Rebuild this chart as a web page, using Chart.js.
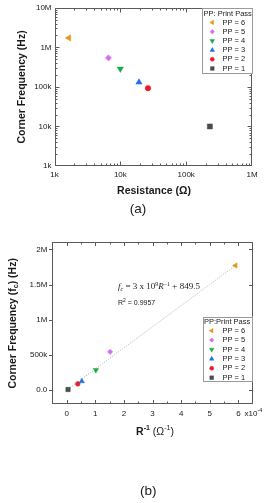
<!DOCTYPE html>
<html><head><meta charset="utf-8">
<script src="https://cdn.jsdelivr.net/npm/chart.js@4/dist/chart.umd.min.js"></script>
<style>
html,body{margin:0;padding:0;background:#fff;width:275px;height:503px;overflow:hidden}
#wa{position:absolute;left:0;top:0;width:275px;height:225px}
#wb{position:absolute;left:0;top:228px;width:275px;height:275px}
</style></head><body>
<div id="wa"><canvas id="ca"></canvas></div>
<div id="wb"><canvas id="cb"></canvas></div>
<script>
// ---------- data ----------
const seriesLabels = ['PP = 6','PP = 5','PP = 4','PP = 3','PP = 2','PP = 1'];
const seriesColors = ['#e8981a','#d46ef0','#1aa84a','#1f6ff0','#f01822','#4a4a4a'];
const seriesShapes = ['triangle','rectRot','triangle','triangle','circle','rect'];
const seriesRotation = [270,0,180,0,0,0];
// panel (a): resistance (ohm) vs corner frequency (Hz)
const resistance = [1650, 6600, 10000, 19200, 26300, 229000];
const freqA = [1.73e6, 5.4e5, 2.86e5, 1.31e5, 9.3e4, 1.0e4];
// panel (b): R^-1 (x1e-4 ohm^-1) vs corner frequency (Hz)
const invR = [5.9, 1.52, 1.02, 0.53, 0.39, 0.05];
const freqB = [1.77e6, 5.45e5, 2.86e5, 1.27e5, 9.0e4, 1.0e4];
// linear fit line endpoints
const fitX = [0.05, 5.9];
const fitY = [1.5e4, 1.771e6];
// tick labels
const logTickLabels = {1000:'1k',10000:'10k',100000:'100k',1000000:'1M',10000000:'10M'};
const linYTickLabels = {0:'0.0',500000:'500k',1000000:'1M',1500000:'1.5M',2000000:'2M'};
const xTickLabelsB = {0:'0',1:'1',2:'2',3:'3',4:'4',5:'5',6:'6'};

const SANS = "'Liberation Sans', Arial, sans-serif";
const SERIF = "'Liberation Serif', 'Times New Roman', serif";
const TXT = '#1a1a1a';
const FRAME = '#5a5a5a';
const SHAPE_SCALE = {triangle:1, rectRot:0.85, circle:0.76, rect:1};

function logTickValues(minE, maxE){
  const out=[];
  for(let e=minE;e<maxE;e++){for(let k=1;k<10;k++){out.push({value:k*Math.pow(10,e), major:k===1});}}
  out.push({value:Math.pow(10,maxE), major:true});
  return out;
}

function segWidth(ctx, segs){let w=0;for(const s of segs){ctx.font=s.f;w+=ctx.measureText(s.t).width;}return w;}
function drawSegs(ctx, x, y, segs){
  let cx=x;
  for(const s of segs){ctx.font=s.f;ctx.fillText(s.t,cx,y+(s.dy||0));cx+=ctx.measureText(s.t).width;}
}

function makePlugin(cfg){
  return {
    id:'deco_'+cfg.id,
    afterDatasetsDraw(chart){
      const {ctx, chartArea:a, scales} = chart;
      ctx.save();
      ctx.strokeStyle = FRAME; ctx.lineWidth = 1;
      const L = Math.round(a.left)+0.5, R = Math.round(a.right)-0.5, T = Math.round(a.top)+0.5, B = Math.round(a.bottom)-0.5;
      ctx.beginPath();
      for(const t of scales.x.ticks){
        const p = Math.round(scales.x.getPixelForValue(t.value))+0.5;
        if(p < L-0.6 || p > R+0.6) continue;
        const len = t.major ? cfg.maj : cfg.min;
        ctx.moveTo(p,B); ctx.lineTo(p,B-len);
        ctx.moveTo(p,T); ctx.lineTo(p,T+len);
      }
      for(const t of scales.y.ticks){
        const p = Math.round(scales.y.getPixelForValue(t.value))+0.5;
        if(p < T-0.6 || p > B+0.6) continue;
        const len = t.major ? cfg.maj : cfg.min;
        ctx.moveTo(L,p); ctx.lineTo(L+cfg.leftDir*len,p);
        ctx.moveTo(R,p); ctx.lineTo(R-len,p);
      }
      ctx.stroke();
      ctx.strokeRect(L,T,R-L,B-T);
      ctx.restore();
    },
    afterDraw(chart){
      const {ctx, chartArea:a} = chart;
      ctx.save();
      ctx.fillStyle = TXT;
      ctx.textBaseline = 'middle';
      const xs = cfg.xTitle;
      ctx.textAlign='left';
      const xw = segWidth(ctx, xs);
      drawSegs(ctx, cfg.xTitleX - xw/2, cfg.xTitleY, xs);
      ctx.save();
      ctx.translate(cfg.yTitleX, (a.top+a.bottom)/2);
      ctx.rotate(-Math.PI/2);
      const yw = segWidth(ctx, cfg.yTitle);
      drawSegs(ctx, -yw/2, 0, cfg.yTitle);
      ctx.restore();
      ctx.font = "13.5px " + SANS;
      ctx.textAlign='center';
      ctx.fillText(cfg.panel, cfg.panelX, cfg.panelY);
      if(cfg.extra) cfg.extra(ctx, chart);
      const lg = cfg.legend;
      ctx.fillStyle='#fff';
      ctx.fillRect(lg.x, lg.y, lg.w, lg.h);
      ctx.strokeStyle='#9a9a9a'; ctx.lineWidth=1;
      ctx.strokeRect(Math.round(lg.x)+0.5, Math.round(lg.y)+0.5, Math.round(lg.w)-1, Math.round(lg.h)-1);
      ctx.fillStyle=TXT; ctx.textAlign='left';
      ctx.font = "7.5px " + SANS;
      ctx.fillText(lg.title, lg.x+1.5, lg.titleY);
      for(let i=0;i<seriesLabels.length;i++){
        const yy = lg.row0 + i*lg.dy;
        ctx.fillStyle = seriesColors[i]; ctx.strokeStyle = seriesColors[i]; ctx.lineWidth=0.5;
        Chart.helpers.drawPoint(ctx, {pointStyle:seriesShapes[i], radius:2.6*SHAPE_SCALE[seriesShapes[i]], rotation:seriesRotation[i], borderWidth:0.5}, lg.mx, yy);
        ctx.fillStyle = TXT;
        ctx.font = "7.5px " + SANS;
        ctx.fillText(seriesLabels[i], lg.tx, yy);
      }
      ctx.restore();
    }
  };
}

function pointDatasets(xv, yv, r){
  return seriesLabels.map((lab,i)=>({
    type:'scatter', label:lab,
    data:[{x:xv[i], y:yv[i]}],
    pointStyle:seriesShapes[i], rotation:seriesRotation[i],
    pointRadius:r*SHAPE_SCALE[seriesShapes[i]], pointBackgroundColor:seriesColors[i], pointBorderColor:seriesColors[i], pointBorderWidth:0.5
  }));
}

const tickFont = {family:SANS, size:8};
const boldT = "bold 10.5px " + SANS;

// ---------- chart (a) ----------
new Chart(document.getElementById('ca'), {
  type:'scatter',
  data:{datasets: pointDatasets(resistance, freqA, 3.6)},
  options:{
    responsive:true, maintainAspectRatio:false, animation:false, devicePixelRatio:1,
    layout:{padding:{left:0, top:7.5, right:23, bottom:0}},
    plugins:{legend:{display:false}, tooltip:{enabled:false}},
    scales:{
      x:{type:'logarithmic', min:1e3, max:1e6,
         afterBuildTicks:(s)=>{s.ticks = logTickValues(3,6);},
         afterFit:(s)=>{s.height = 59;},
         grid:{display:false, drawTicks:false}, border:{display:false},
         ticks:{autoSkip:false, maxRotation:0, minRotation:0, padding:4, color:TXT, font:tickFont,
                callback:(v)=>logTickLabels[v]||''}},
      y:{type:'logarithmic', min:1e3, max:1e7,
         afterBuildTicks:(s)=>{s.ticks = logTickValues(3,7);},
         afterFit:(s)=>{s.width = 54.5;},
         grid:{display:false, drawTicks:false}, border:{display:false},
         ticks:{autoSkip:false, padding:3, color:TXT, font:tickFont,
                callback:(v)=>logTickLabels[v]||''}}
    }
  },
  plugins:[makePlugin({
    id:'a', maj:4, min:2, leftDir:1,
    xTitle:[{t:'Resistance (Ω)', f:boldT}], xTitleX:154, xTitleY:191.5,
    yTitle:[{t:'Corner Frequency (Hz)', f:boldT}], yTitleX:22.5,
    panel:'(a)', panelX:138, panelY:209.5,
    legend:{x:202, y:7.5, w:50.5, h:66, title:'PP: Print Pass', titleY:13.5, row0:22.5, dy:9.2, mx:212.3, tx:222.5}
  })]
});

// ---------- chart (b) ----------
const fitData = fitX.map((x,i)=>({x:x, y:fitY[i]}));
new Chart(document.getElementById('cb'), {
  type:'scatter',
  data:{datasets:[
    {type:'line', label:'fit', data:fitData, borderColor:'#9a9a9a', borderWidth:0.8, borderDash:[1,1.5], pointRadius:0, fill:false},
    ...pointDatasets(invR, freqB, 3.1)
  ]},
  options:{
    responsive:true, maintainAspectRatio:false, animation:false, devicePixelRatio:1,
    layout:{padding:{left:0, top:14.3, right:22.3, bottom:0}},
    plugins:{legend:{display:false}, tooltip:{enabled:false}},
    scales:{
      x:{type:'linear', min:-0.5, max:6.5,
         afterBuildTicks:(s)=>{const t=[];for(let v=-0.5;v<=6.5001;v+=0.5){const q=Math.round(v*2)/2;t.push({value:q, major:Number.isInteger(q)});}s.ticks=t;},
         afterFit:(s)=>{s.height = 98.7;},
         grid:{display:false, drawTicks:false}, border:{display:false},
         ticks:{autoSkip:false, maxRotation:0, minRotation:0, padding:5, color:TXT, font:tickFont,
                callback:(v)=>xTickLabelsB[v]!==undefined?xTickLabelsB[v]:''}},
      y:{type:'linear', min:-2e5, max:2.1e6,
         afterBuildTicks:(s)=>{s.ticks = Object.keys(linYTickLabels).map(k=>({value:+k, major:true}));},
         afterFit:(s)=>{s.width = 52.3;},
         grid:{display:false, drawTicks:false}, border:{display:false},
         ticks:{autoSkip:false, padding:5, color:TXT, font:tickFont,
                callback:(v)=>linYTickLabels[v]||''}}
    }
  },
  plugins:[makePlugin({
    id:'b', maj:3.5, min:2, leftDir:-1,
    xTitle:[{t:'R', f:boldT},{t:'-1', f:"bold 7px "+SANS, dy:-3.5},{t:' (Ω', f:"10.5px "+SANS},{t:'-1', f:"7px "+SANS, dy:-3.5},{t:')', f:"10.5px "+SANS}],
    xTitleX:155, xTitleY:203.7,
    yTitle:[{t:'Corner Frequency (f', f:boldT},{t:'c', f:"bold 7px "+SANS, dy:3},{t:') (Hz)', f:boldT}], yTitleX:13,
    panel:'(b)', panelX:148.3, panelY:263.7,
    legend:{x:202.5, y:88.7, w:50.3, h:65, title:'PP:Print Pass', titleY:93.7, row0:102.7, dy:9.4, mx:211.7, tx:222.5},
    extra:(ctx, chart)=>{
      ctx.save();
      ctx.textAlign='left'; ctx.textBaseline='alphabetic'; ctx.fillStyle=TXT;
      const it = "italic 9px "+SERIF, rg = "9px "+SERIF, sm = "6px "+SERIF, smi="italic 6px "+SERIF;
      drawSegs(ctx, 118, 61, [
        {t:'f', f:it},{t:'c', f:smi, dy:2},{t:' = 3 x 10', f:rg},{t:'9', f:sm, dy:-3.5},
        {t:'R', f:it},{t:'−1', f:sm, dy:-3.5},{t:' + 849.5', f:rg}
      ]);
      drawSegs(ctx, 118, 76.5, [
        {t:'R', f:"7px "+SANS},{t:'2', f:"5px "+SANS, dy:-3},{t:' = 0.9957', f:"7px "+SANS}
      ]);
      drawSegs(ctx, 244.5, 187.5, [{t:'x10', f:"8px "+SANS},{t:'-4', f:"5.5px "+SANS, dy:-3.5}]);
      ctx.restore();
    }
  })]
});
</script>
</body></html>
